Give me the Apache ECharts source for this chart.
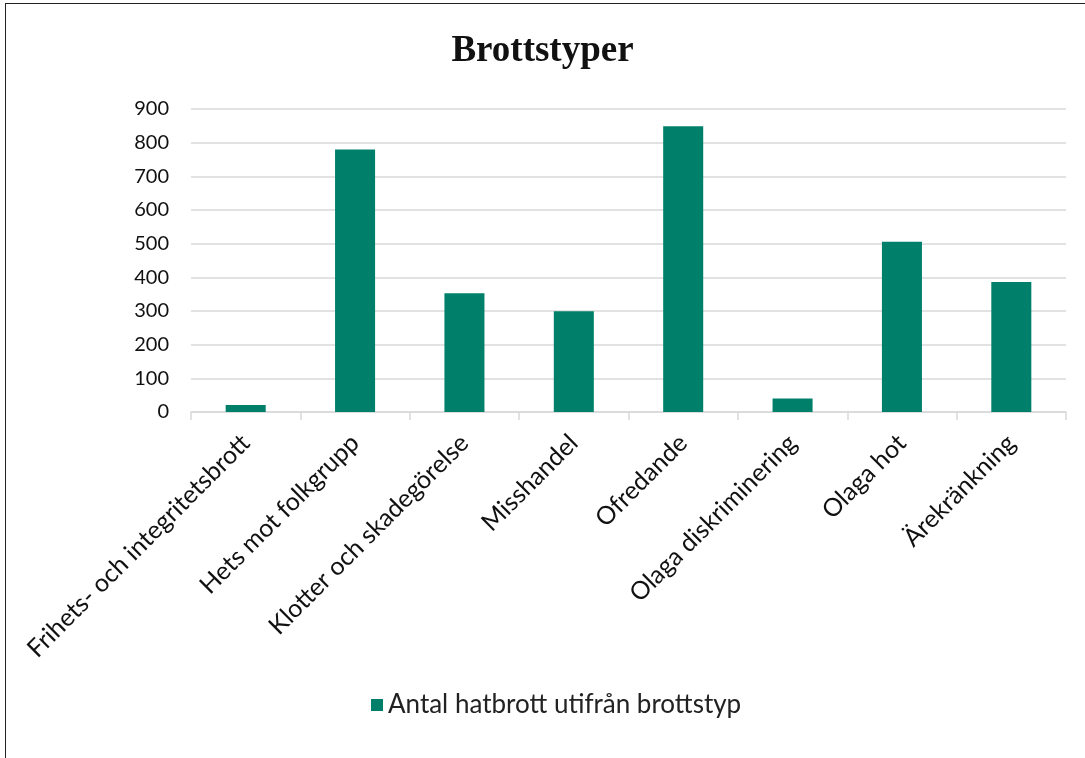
<!DOCTYPE html>
<html>
<head>
<meta charset="utf-8">
<script src="https://cdn.jsdelivr.net/npm/echarts@6/dist/echarts.min.js"></script>
<style>
html,body{margin:0;padding:0;background:#fff;}
#wrap{position:relative;width:1085px;height:758px;overflow:hidden;}
#frame{position:absolute;left:5px;top:3px;width:1200px;height:900px;border-top:1.5px solid #222;border-left:1.5px solid #222;pointer-events:none;}
#chart{position:absolute;left:0;top:0;width:1085px;height:758px;}
</style>
</head>
<body>
<div id="wrap"><div id="chart"></div><div id="frame"></div></div>
<script>
const titleText = 'Brottstyper';
const seriesName = 'Antal hatbrott utifrån brottstyp';
const categories = ['Frihets- och integritetsbrott','Hets mot folkgrupp','Klotter och skadegörelse','Misshandel','Ofredande','Olaga diskriminering','Olaga hot','Ärekränkning'];
const values = [21, 780, 353, 299, 849, 40, 506, 386];
const yTicks = [0, 100, 200, 300, 400, 500, 600, 700, 800, 900];

const chart = echarts.init(document.getElementById('chart'), null, {renderer:'canvas'});
chart.setOption({
  animation:false,
  backgroundColor:'#fff',
  title:{text:titleText,left:'center',top:28,
    textStyle:{fontFamily:'Liberation Serif',fontWeight:'bold',fontSize:37,color:'#111'}},
  legend:{bottom:35,left:366,itemWidth:12,itemHeight:12,icon:'rect',itemGap:11,
    textStyle:{fontFamily:'Lato',fontSize:26,color:'#222'},data:[seriesName]},
  grid:{left:191,right:19,top:109,bottom:346,containLabel:false},
  xAxis:{type:'category',data:categories,
    axisLine:{lineStyle:{color:'#d9d9d9',width:1.5}},
    axisTick:{show:true,length:8,alignWithLabel:false,lineStyle:{color:'#d9d9d9',width:1.5}},
    axisLabel:{rotate:45,interval:0,margin:27,fontFamily:'Lato',fontSize:25,color:'#111'}},
  yAxis:{type:'value',min:yTicks[0],max:yTicks[yTicks.length-1],interval:100,
    axisLine:{show:false},axisTick:{show:false},
    splitLine:{lineStyle:{color:'#d9d9d9',width:1.5}},
    axisLabel:{margin:22,fontFamily:'Lato',fontSize:20,color:'#111'}},
  series:[{name:seriesName,type:'bar',data:values,barWidth:'36.6%',
    itemStyle:{color:'#00806B'}}]
});
</script>
</body>
</html>
